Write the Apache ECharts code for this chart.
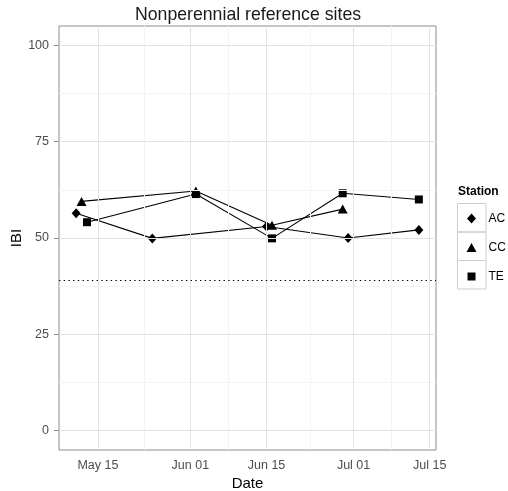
<!DOCTYPE html>
<html><head><meta charset="utf-8">
<script src="https://cdn.jsdelivr.net/npm/echarts@6/dist/echarts.min.js"></script>
<style>html,body{margin:0;padding:0;background:#fff}#c{width:508px;height:491px}</style>
</head><body><div id="c"></div>
<script>
// ---- data ----
const stations = ['AC', 'CC', 'TE'];
const acDates = ['2013-05-11', '2013-05-25', '2013-06-15', '2013-06-30', '2013-07-13'];
const acIBI   = [56.4, 49.9, 53.0, 50.0, 52.1];
const ccDates = ['2013-05-12', '2013-06-02', '2013-06-16', '2013-06-29'];
const ccIBI   = [59.5, 62.2, 53.3, 57.5];
const teDates = ['2013-05-13', '2013-06-02', '2013-06-16', '2013-06-29', '2013-07-13'];
const teIBI   = [54.1, 61.4, 49.9, 61.6, 60.0];
const refIBI = 39;
const xTickDates  = ['2013-05-15', '2013-06-01', '2013-06-15', '2013-07-01', '2013-07-15'];
const xTickLabels = ['May 15', 'Jun 01', 'Jun 15', 'Jul 01', 'Jul 15'];
const yTicks = [0, 25, 50, 75, 100];

// ---- helpers: dates -> day numbers (UTC) on a value axis ----
const DAY = 86400000;
const dn = s => { const [y, m, d] = s.split('-').map(Number); return Date.UTC(y, m - 1, d) / DAY; };
const pairs = (ds, vs) => ds.map((d, i) => [dn(d), vs[i]]);
const allT = [...acDates, ...ccDates, ...teDates].map(dn);
const tMin = Math.min(...allT), tMax = Math.max(...allT);
const pad = (tMax - tMin) * 0.05;
const xTicks = xTickDates.map(dn);
const xMinor = xTicks.slice(1).map((t, i) => (t + xTicks[i]) / 2);
const yMinor = yTicks.slice(1).map((v, i) => (v + yTicks[i]) / 2);

const FONT = '"Liberation Sans", Arial, sans-serif';
const major = { color: '#e3e3e3', width: 1, type: 'solid' };
const minor = { color: '#f3f3f3', width: 1, type: 'solid' };

const gridLines = [
  ...xMinor.map(t => ({ xAxis: t, lineStyle: minor })),
  ...yMinor.map(v => ({ yAxis: v, lineStyle: minor })),
  ...xTicks.map(t => ({ xAxis: t, lineStyle: major })),
  ...yTicks.map(v => ({ yAxis: v, lineStyle: major }))
];

const symbols = { AC: ['diamond', [9, 10]], CC: ['triangle', [10, 9]], TE: ['rect', 8] };
const legendIconSize = { AC: [9, 10], CC: [10, 9], TE: [8, 8] };
const seriesData = { AC: pairs(acDates, acIBI), CC: pairs(ccDates, ccIBI), TE: pairs(teDates, teIBI) };

const chart = echarts.init(document.getElementById('c'), null, { renderer: 'canvas' });
chart.setOption({
  animation: false,
  backgroundColor: '#fff',
  textStyle: { fontFamily: FONT },
  title: {
    text: 'Nonperennial reference sites', left: 243, top: 1, textAlign: 'center',
    textStyle: { fontFamily: FONT, fontSize: 17.7, fontWeight: 'normal', color: '#1a1a1a' }
  },
  grid: {
    left: 59, top: 26, width: 377, height: 424, outerBoundsMode: 'none', containLabel: false,
    show: true, borderColor: '#8c8c8c', borderWidth: 1, backgroundColor: '#fff'
  },
  xAxis: {
    type: 'value', min: tMin - pad, max: tMax + pad, scale: true,
    name: 'Date', nameLocation: 'middle', nameGap: 26, nameMoveOverlap: false,
    nameTextStyle: { fontFamily: FONT, fontSize: 15, color: '#000' },
    axisLine: { show: false },
    splitLine: { show: false },
    axisTick: { show: true, customValues: xTicks, length: 4, lineStyle: { color: '#8c8c8c' } },
    axisLabel: {
      customValues: xTicks, margin: 9, fontFamily: FONT, fontSize: 12.5, color: '#4d4d4d',
      formatter: v => { const i = xTicks.indexOf(v); return i >= 0 ? xTickLabels[i] : ''; }
    }
  },
  yAxis: {
    type: 'value', min: -5, max: 105,
    name: 'IBI', nameLocation: 'middle', nameGap: 35, nameMoveOverlap: false,
    nameTextStyle: { fontFamily: FONT, fontSize: 15, color: '#000' },
    axisLine: { show: false },
    splitLine: { show: false },
    axisTick: { show: true, customValues: yTicks, length: 5, lineStyle: { color: '#8c8c8c' } },
    axisLabel: { customValues: yTicks, margin: 10, fontFamily: FONT, fontSize: 12.5, color: '#4d4d4d' }
  },
  legend: stations.map((s, i) => ({
    orient: 'vertical', left: 471.5 - legendIconSize[s][0] / 2, top: 217.5 + i * 28.5 - legendIconSize[s][1] / 2, padding: 0,
    itemWidth: legendIconSize[s][0], itemHeight: legendIconSize[s][1],
    textStyle: { fontFamily: FONT, fontSize: 12, color: '#000', padding: [0, 0, 0, 16.5 - legendIconSize[s][0] / 2 - 5 + 0.5] },
    data: [{ name: s, icon: symbols[s][0] }],
    itemStyle: { color: '#000' }
  })),
  graphic: [
    { type: 'text', left: 458, top: 186, style: { text: 'Station', font: 'bold 12px ' + FONT, fill: '#000' } },
    { type: 'rect', shape: { x: 457.5, y: 203.5, width: 28.5, height: 28.5 }, style: { fill: 'none', stroke: '#cccccc', lineWidth: 1 } },
    { type: 'rect', shape: { x: 457.5, y: 232, width: 28.5, height: 28.5 }, style: { fill: 'none', stroke: '#cccccc', lineWidth: 1 } },
    { type: 'rect', shape: { x: 457.5, y: 260.5, width: 28.5, height: 28.5 }, style: { fill: 'none', stroke: '#cccccc', lineWidth: 1 } }
  ],
  series: [
    {
      name: '_grid', type: 'line', data: [], z: 1, silent: true,
      markLine: { silent: true, symbol: 'none', label: { show: false }, animation: false, data: gridLines }
    },
    {
      name: '_ref', type: 'line', data: [], z: 2, silent: true,
      markLine: {
        silent: true, symbol: 'none', label: { show: false }, animation: false,
        lineStyle: { color: '#000', width: 1.2, type: [1.4, 3.3] },
        data: [{ yAxis: refIBI }]
      }
    },
    ...stations.map(s => ({
      name: s, type: 'line', z: 3,
      data: seriesData[s],
      symbol: symbols[s][0], symbolSize: symbols[s][1],
      showSymbol: true,
      itemStyle: { color: '#000' },
      lineStyle: { color: '#000', width: 1.1 },
      emphasis: { disabled: true }
    }))
  ]
});
</script></body></html>
